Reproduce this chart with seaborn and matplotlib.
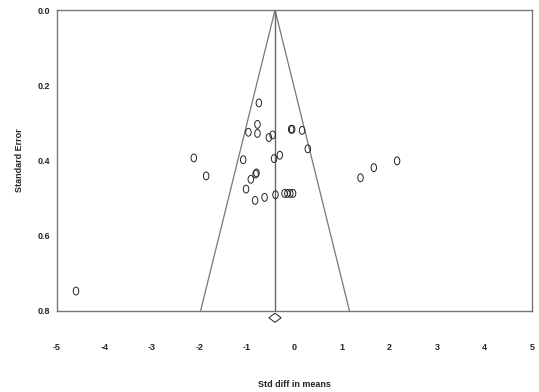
import numpy as np
import pandas as pd
import matplotlib
matplotlib.use("Agg")
import matplotlib.pyplot as plt
from matplotlib.path import Path
from matplotlib.transforms import Affine2D
import seaborn as sns

# study effects (std diff in means) and their standard errors
effect = [-0.75, -0.78, -0.97, -0.78, -0.54, -0.46, -0.07, -0.05, 0.16, 0.28,
          -2.12, -1.08, -0.43, -0.31, -1.86, -0.80, -0.82, -0.92, -1.02, -0.83,
          -0.63, -0.40, -0.21, -0.15, -0.09, -0.03, 1.39, 1.67, 2.16, -4.60]
std_err = [0.247, 0.304, 0.325, 0.328, 0.339, 0.332, 0.317, 0.317, 0.320, 0.369,
           0.393, 0.398, 0.395, 0.386, 0.441, 0.433, 0.436, 0.450, 0.476, 0.506,
           0.498, 0.491, 0.4875, 0.4875, 0.4875, 0.4875, 0.446, 0.419, 0.401, 0.747]

# pooled estimate and its confidence interval
pooled = -0.41
pooled_ci = (-0.54, -0.28)

x_ticks = [-5, -4, -3, -2, -1, 0, 1, 2, 3, 4, 5]
y_ticks = [0.0, 0.2, 0.4, 0.6, 0.8]

sns.set_style("white")
plt.rcParams['font.family'] = ['Liberation Sans', 'DejaVu Sans']
plt.rcParams['font.weight'] = 'bold'

df = pd.DataFrame({"effect": effect, "se": std_err})

fig = plt.figure(figsize=(5.39, 3.92), dpi=100)
ax = fig.add_axes([57 / 539, 1 - 311 / 392, 475 / 539, 301 / 392])

# open ellipse marker, taller than wide
ellipse = Path.unit_circle().transformed(Affine2D().scale(0.7, 1.0))

sns.scatterplot(data=df, x="effect", y="se", ax=ax, marker=ellipse, s=32,
                facecolor="none", edgecolor="#222222", linewidth=0.7, zorder=3)

# funnel (pseudo 95% limits) and pooled line
se_line = np.array([0.0, 0.8])
ax.plot(pooled - 1.96 * se_line, se_line, color="#777777", lw=0.9)
ax.plot(pooled + 1.96 * se_line, se_line, color="#777777", lw=0.9)
ax.plot([pooled, pooled], [0.0, 0.8], color="#666666", lw=1.0)

# summary diamond under the axis
lo, hi = pooled_ci
yc, h = 0.818, 0.012
ax.fill([lo, pooled, hi, pooled, lo], [yc, yc - h, yc, yc + h, yc],
        facecolor="white", edgecolor="#222222", lw=0.7, clip_on=False, zorder=4)

ax.set_xlim(-5, 5)
ax.set_ylim(0.8, 0.0)
ax.set_xticks(x_ticks)
ax.set_xticklabels([str(t) for t in x_ticks])
ax.set_yticks(y_ticks)
ax.set_yticklabels([f"{t:.1f}" for t in y_ticks])

ax.tick_params(axis="x", direction="in", length=3, width=0.8, color="#777777",
               labelsize=6.5, pad=23)
ax.tick_params(axis="y", direction="out", length=2, width=0.8, color="#333333",
               labelsize=6.5, pad=3)
ax.tick_params(axis="x", top=False)

for side in ["left", "right", "top", "bottom"]:
    ax.spines[side].set_visible(True)
    ax.spines[side].set_color("#777777")
    ax.spines[side].set_linewidth(1.0)

ax.set_xlabel("Std diff in means", fontsize=6.5, fontweight="bold", labelpad=20)
ax.set_ylabel("Standard Error", fontsize=6.5, fontweight="bold", labelpad=10)

fig.savefig("out.png", dpi=100)
